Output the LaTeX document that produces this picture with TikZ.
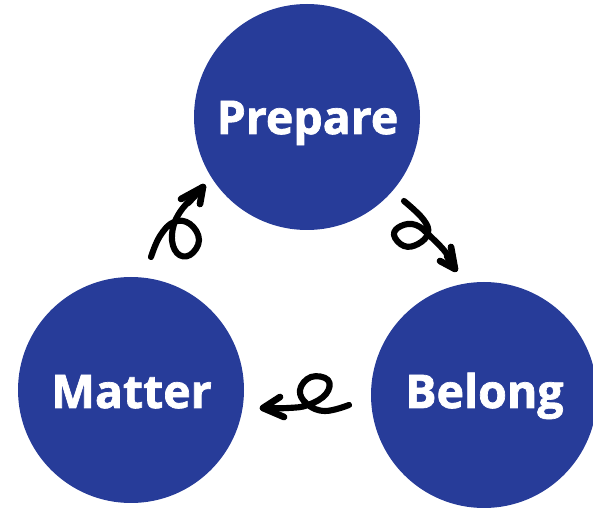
\documentclass[tikz,border=0pt]{standalone}
\usepackage{fontspec}
\setmainfont{Open Sans}[BoldFeatures={FakeBold=1.5}]
\definecolor{stageblue}{RGB}{39,60,153}
\tikzset{stage/.style={circle,fill=stageblue,minimum size=226*0.75pt,inner sep=0pt}}
\tikzset{stagetext/.style={anchor=base,text=white,font=\fontsize{34.8}{40}\selectfont\bfseries,inner sep=0pt}}
\tikzset{swirl/.style={line width=4.6pt,line cap=round,line join=round,black}}
\tikzset{barb/.style={line width=5pt,line cap=round,line join=round,black}}
\begin{document}
\begin{tikzpicture}[x=0.75pt,y=-0.75pt]
	\useasboundingbox (0,0) rectangle (593,509);
	\clip (0,0) rectangle (593,509);

	\node[stage] (prepare) at (307,117) {};
	\node[stage] (matter) at (131,390) {};
	\node[stage] (belong) at (484,395) {};

	\node[stagetext] (prepareText) at (307.5,134) {Prepare};
	\node[stagetext] (matterText) at (131.5,408) {Matter};
	\node[stagetext] (belongText) at (484.5,408) {Belong};

	% Matter para Prepare
	\coordinate (tailA) at (151,257);
	\coordinate (tipA) at (203,187);
	\draw[swirl] plot[smooth,tension=0.7] coordinates {(tailA) (160,236) (174,222) (190,224) (199,240) (190,255) (177,253) (172,235) (180,212) (tipA)};
	\draw[barb] (181,199) -- (tipA) -- (200,204);
	\draw[barb] (tipA) -- (188,203);

	% Prepare para Belong
	\coordinate (tailB) at (404,201);
	\coordinate (tipB) at (455,269);
	\draw[swirl] plot[smooth,tension=0.7] coordinates {(tailB) (423,219) (428,233) (418,244) (404,246) (394,235) (401,226) (416,225) (431,237) (447,254) (tipB)};
	\draw[barb] (451,247) -- (tipB) -- (440,261);
	\draw[barb] (tipB) -- (447,256);

	% Belong para Matter
	\coordinate (tailC) at (349,405);
	\coordinate (tipC) at (263,408);
	\draw[swirl] plot[smooth,tension=0.7] coordinates {(tailC) (325,411) (307,404) (300,390) (311,377) (328,380) (326,394) (308,405) (288,408) (tipC)};
	\draw[barb] (280,397) -- (tipC) -- (284,417);
	\draw[barb] (tipC) -- (278,408);
\end{tikzpicture}
\end{document}
